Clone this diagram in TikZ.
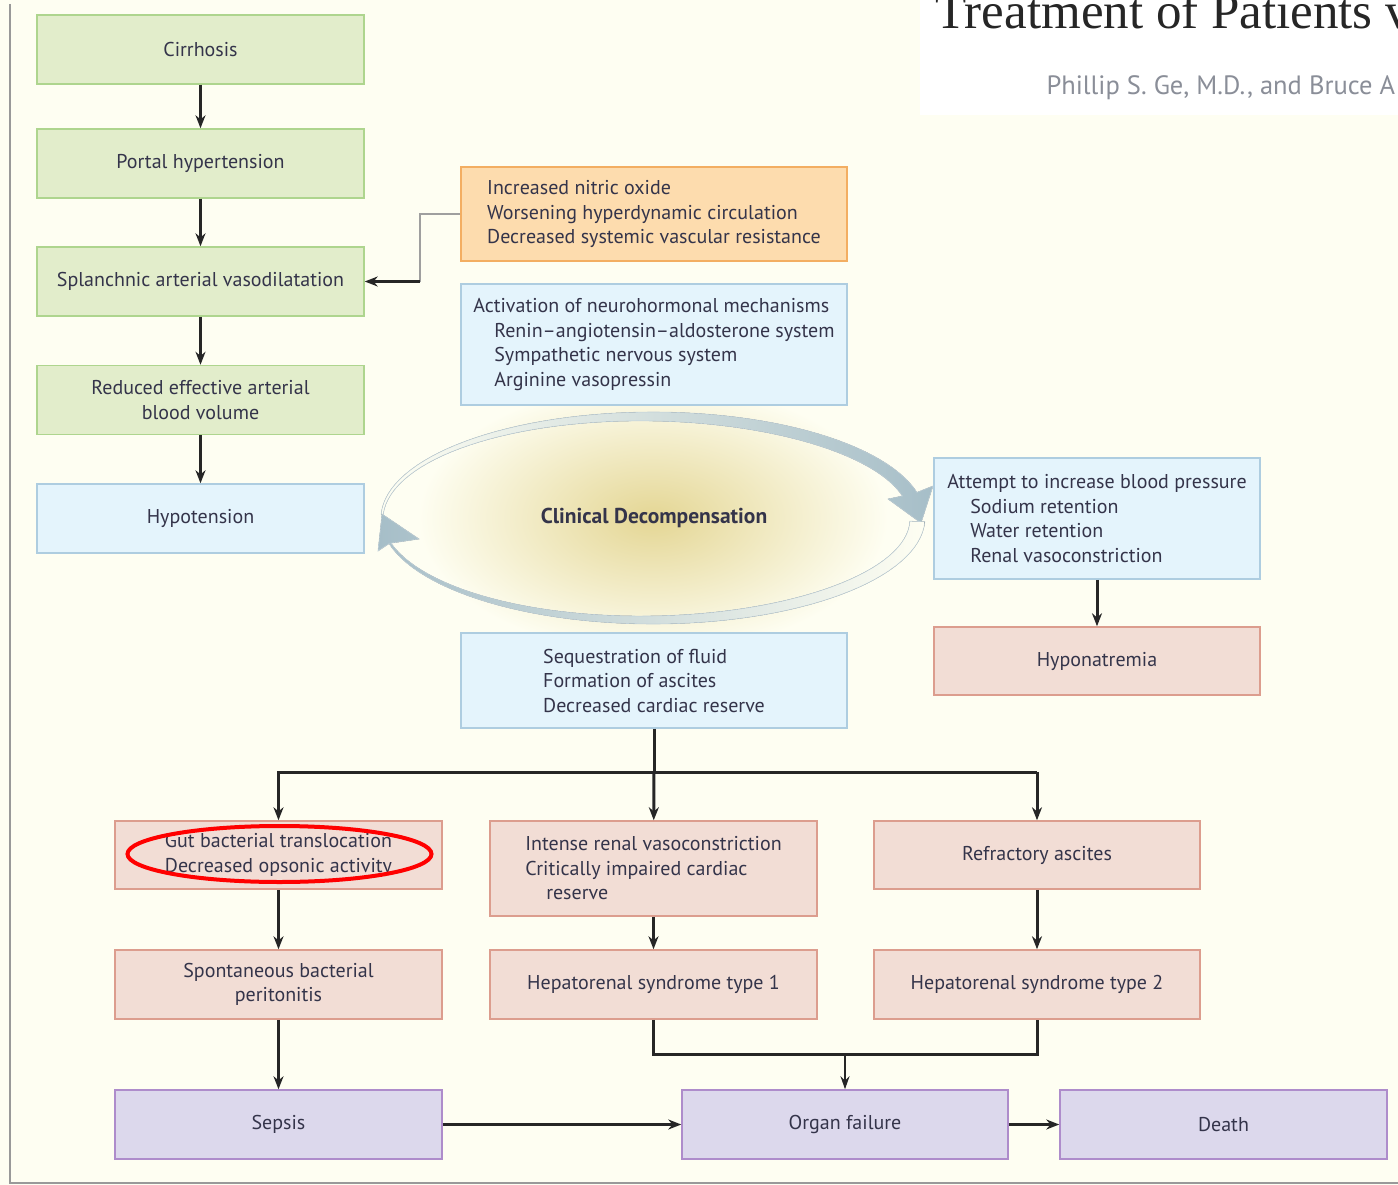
\documentclass[tikz,border=0pt]{standalone}
\usepackage{fontspec}
\setmainfont{PT Sans}
\newfontfamily\titlefont{Liberation Serif}
\usetikzlibrary{arrows.meta}
\definecolor{bg}{HTML}{FEFEF2}
\definecolor{ink}{HTML}{34344A}
\definecolor{grnf}{HTML}{E2EDCB}
\definecolor{grnd}{HTML}{AED58E}
\definecolor{bluf}{HTML}{E4F4FC}
\definecolor{blud}{HTML}{AECDE0}
\definecolor{orgf}{HTML}{FDDCAE}
\definecolor{orgd}{HTML}{F3AE62}
\definecolor{pnkf}{HTML}{F2DDD5}
\definecolor{pnkd}{HTML}{DC9D8E}
\definecolor{prpf}{HTML}{DCD8EC}
\definecolor{prpd}{HTML}{AE8CCB}
\definecolor{cyc}{HTML}{A6BEC8}
\definecolor{glow}{HTML}{E4D694}
\definecolor{authc}{HTML}{8A8E98}
\newcommand{\boxfont}{\fontsize{20}{24.5}\selectfont}
\tikzset{
  box/.style={draw, line width=1.5pt, minimum width=327pt, minimum height=69pt, inner sep=0pt, text=ink, font=\boxfont, align=center},
  grn/.style={box, fill=grnf, draw=grnd},
  blu/.style={box, fill=bluf, draw=blud},
  org/.style={box, fill=orgf, draw=orgd},
  pnk/.style={box, fill=pnkf, draw=pnkd},
  prp/.style={box, fill=prpf, draw=prpd},
  ln/.style={line width=3pt, black!85},
  arr/.style={ln, -{Stealth[length=13pt,width=10pt]}}
}
\begin{document}
\begin{tikzpicture}[x=1pt,y=-1pt]
\useasboundingbox (0,0) rectangle (1398,1185);
\clip (0,0) rectangle (1398,1185);
\fill[bg] (0,0) rectangle (1398,1185);
\fill[white] (920,0) rectangle (1398,115);
\draw[gray!80, line width=2pt] (10,4) -- (10,1183) -- (1398,1183);
\node[anchor=base west, font=\titlefont\fontsize{51}{51}\selectfont, text=black!85] (title) at (932,29) {Treatment of Patients v};
\node[anchor=base west, font=\fontsize{26.5}{26.5}\selectfont, text=authc] (author) at (1043,95) {Phillip S. Ge, M.D., and Bruce A};
\shade[inner color=glow, outer color=bg] (653,518) ellipse [x radius=235, y radius=135];
\pgfmathsetmacro{\cx}{653}
\pgfmathsetmacro{\cy}{518}
\fill[left color=bg, middle color=cyc!85, right color=cyc, draw=cyc!70, line width=0.6pt]
  plot[domain=178:14, samples=60] ({\cx+272*cos(\x)},{\cy-106*sin(\x)})
  -- (933,486) -- (921,523) -- (888,499)
  -- plot[domain=14:178, samples=60] ({\cx+(270-13*(178-\x)/164)*cos(\x)},{\cy-(104-13*(178-\x)/164)*sin(\x)}) -- cycle;
\fill[left color=cyc, middle color=cyc!85, right color=bg, draw=cyc!70, line width=0.6pt]
  plot[domain=358:194, samples=60] ({\cx+272*cos(\x)},{\cy-106*sin(\x)})
  -- (378,551) -- (382,514) -- (419,539)
  -- plot[domain=194:358, samples=60] ({\cx+(270-13*(\x-194)/164)*cos(\x)},{\cy-(104-13*(\x-194)/164)*sin(\x)}) -- cycle;
\node[font=\bfseries\fontsize{21.5}{21.5}\selectfont, text=ink] (clin) at (654,518) {Clinical Decompensation};
\node[grn] (cirr) at (200.5,49.5) {Cirrhosis};
\node[grn] (portal) at (200.5,163.5) {Portal hypertension};
\node[grn] (splanch) at (200.5,281.5) {Splanchnic arterial vasodilatation};
\node[grn] (reduced) at (200.5,400) {Reduced effective arterial\\blood volume};
\node[blu] (hypo) at (200.5,518.5) {Hypotension};
\node[org, minimum width=386pt, minimum height=94pt, align=left] (oxide) at (654,214) {Increased nitric oxide\\Worsening hyperdynamic circulation\\Decreased systemic vascular resistance};
\node[blu, minimum width=386pt, minimum height=121pt, align=left] (neuro) at (654,344.5) {Activation of neurohormonal mechanisms\\\hspace*{21pt}Renin--angiotensin--aldosterone system\\\hspace*{21pt}Sympathetic nervous system\\\hspace*{21pt}Arginine vasopressin};
\node[blu, minimum width=326pt, minimum height=121pt, align=left] (attempt) at (1097,518.5) {Attempt to increase blood pressure\\\hspace*{23pt}Sodium retention\\\hspace*{23pt}Water retention\\\hspace*{23pt}Renal vasoconstriction};
\node[pnk, minimum width=326pt, minimum height=68pt] (hypona) at (1097,661) {Hyponatremia};
\node[blu, minimum width=386pt, minimum height=95pt, align=left] (seq) at (654,680.5) {Sequestration of fluid\\Formation of ascites\\Decreased cardiac reserve};
\node[pnk, minimum height=68pt, align=left] (gut) at (278.5,855) {Gut bacterial translocation\\Decreased opsonic activity};
\node[pnk, minimum height=95pt, align=left] (intense) at (653.5,868.5) {Intense renal vasoconstriction\\Critically impaired cardiac\\\hspace*{21pt}reserve};
\node[pnk, minimum width=326pt, minimum height=68pt] (refr) at (1037,855) {Refractory ascites};
\node[pnk] (sbp) at (278.5,984.5) {Spontaneous bacterial\\peritonitis};
\node[pnk] (hrs1) at (653.5,984.5) {Hepatorenal syndrome type 1};
\node[pnk, minimum width=326pt] (hrs2) at (1037,984.5) {Hepatorenal syndrome type 2};
\node[prp] (sepsis) at (278.5,1124.5) {Sepsis};
\node[prp, minimum width=326pt] (organ) at (845,1124.5) {Organ failure};
\node[prp] (death) at (1223.5,1124.5) {Death};
\draw[arr] (cirr) -- (portal);
\draw[arr] (portal) -- (splanch);
\draw[arr] (splanch) -- (reduced);
\draw[arr] (reduced) -- (hypo);
\coordinate (elbow) at (420,281.5);
\draw[gray!75, line width=1.5pt] (oxide.west) -| (elbow);
\draw[arr] (elbow) -- (splanch);
\draw[arr] (attempt) -- (hypona);
\coordinate (fork) at (654,772);
\draw[ln] (seq.south) -- (fork);
\draw[arr] (refr.north |- fork) -- (gut.north |- fork) -- (gut);
\draw[arr] (refr.north |- fork) -- (refr);
\draw[arr] (fork) -- (intense);
\draw[arr] (gut) -- (sbp);
\draw[arr] (intense) -- (hrs1);
\draw[arr] (refr) -- (hrs2);
\draw[arr] (sbp) -- (sepsis);
\coordinate (join) at (845,1054);
\draw[ln] (hrs1.south) -- (hrs1.south |- join) -- (hrs2.south |- join) -- (hrs2.south);
\draw[line width=2pt, black!85, -{Stealth[length=13pt,width=9pt]}] (join) -- (organ);
\draw[arr] (sepsis) -- (organ);
\draw[arr] (organ) -- (death);
\draw[red, line width=4pt] (279.5,854) ellipse [x radius=152, y radius=28];
\end{tikzpicture}
\end{document}
